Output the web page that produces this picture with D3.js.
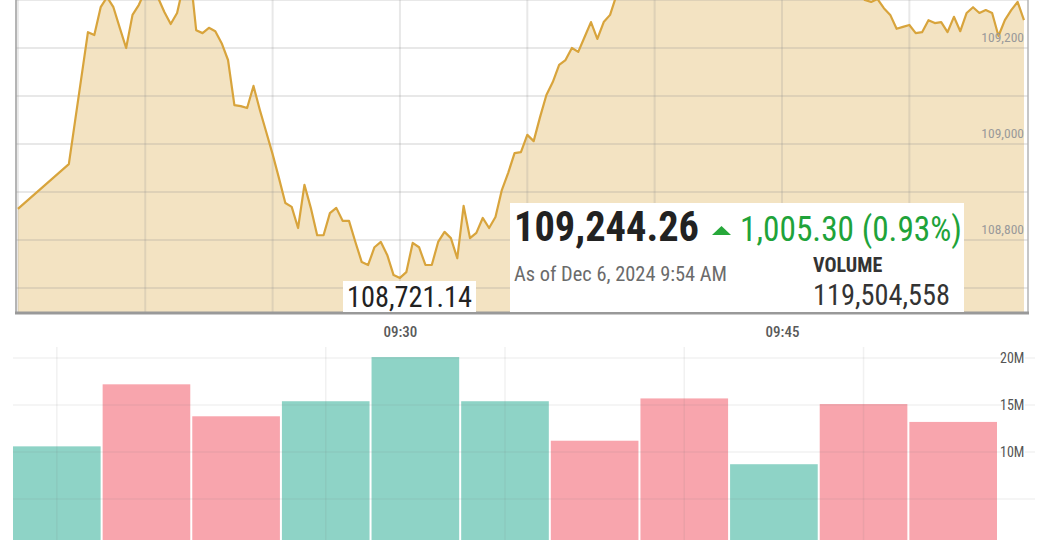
<!DOCTYPE html>
<html><head><meta charset="utf-8">
<script src="https://cdn.jsdelivr.net/npm/d3@7"></script>
<style>
body{margin:0;background:#fff;}
svg{display:block;}
text{font-family:"Roboto Condensed","Liberation Sans Narrow","DejaVu Sans Condensed","Arial Narrow",sans-serif;}
</style>
</head><body>
<svg id="c" width="1042" height="540"></svg>
<script>
// ---------- data ----------
const priceTimes = [
"09:15:00","09:17:00","09:17:45","09:18:00","09:18:15","09:18:30","09:18:45","09:19:00","09:19:15","09:19:30",
"09:19:45","09:20:00","09:20:15","09:20:30","09:20:45","09:21:00","09:21:15","09:21:30","09:21:45","09:22:00",
"09:22:15","09:22:30","09:22:45","09:23:00","09:23:15","09:23:30","09:23:45","09:24:00","09:24:15","09:24:30",
"09:24:45","09:25:00","09:25:15","09:25:30","09:25:45","09:26:00","09:26:15","09:26:30","09:26:45","09:27:00",
"09:27:15","09:27:30","09:27:45","09:28:00","09:28:15","09:28:30","09:28:45","09:29:00","09:29:15","09:29:30",
"09:29:45","09:30:00","09:30:15","09:30:30","09:30:45","09:31:00","09:31:15","09:31:30","09:31:45","09:32:00",
"09:32:15","09:32:30","09:32:45","09:33:00","09:33:15","09:33:30","09:33:45","09:34:00","09:34:15","09:34:30",
"09:34:45","09:35:00","09:35:15","09:35:30","09:35:45","09:36:00","09:36:15","09:36:30","09:36:45","09:37:00",
"09:37:15","09:37:30","09:37:45","09:38:00","09:38:15","09:38:30","09:39:00","09:40:00","09:41:00","09:42:00",
"09:43:00","09:44:00","09:45:00","09:46:00","09:47:00","09:48:00","09:48:15","09:48:30","09:48:45","09:49:00",
"09:49:15","09:49:30","09:49:45","09:50:00","09:50:15","09:50:30","09:50:45","09:51:00","09:51:15","09:51:30",
"09:51:45","09:52:00","09:52:15","09:52:30","09:52:45","09:53:00","09:53:15","09:53:30","09:53:45","09:54:00",
"09:54:15","09:54:30"];
const priceValues = [
108865,108958,109233,109227,109285,109306,109285,109242,109200,109269,
109290,109320,109330,109305,109275,109250,109273,109331,109362,109237,
109231,109242,109235,109210,109175,109081,109079,109075,109121,109071,
109025,108979,108929,108877,108869,108825,108915,108867,108810,108810,
108856,108867,108840,108840,108796,108754,108748,108785,108796,108769,
108727,108721.14,108733,108794,108785,108748,108748,108796,108817,108804,
108762,108871,108804,108815,108846,108825,108848,108904,108940,108981,
108983,109019,109006,109056,109102,109129,109165,109175,109200,109192,
109223,109254,109219,109254,109269,109310,109335,109370,109390,109400,
109385,109410,109420,109395,109380,109330,109300,109296,109302,109283,
109269,109240,109244,109248,109231,109233,109258,109252,109254,109233,
109265,109235,109273,109285,109273,109279,109273,109225,109258,109279,
109296,109258];
const priceGridTicks = [108700,108800,108900,109000,109100,109200,109300];
const priceLabelTicks = [108800,109000,109200];
const timeGridTicks = ["09:15:00","09:20:00","09:25:00","09:30:00","09:35:00","09:40:00","09:45:00","09:50:00","09:55:00"];
const timeLabelTicks = ["09:30:00","09:45:00"];

const volCategories = ["1","2","3","4","5","6","7","8","9","10","11"];
const volValues = [10.6e6,17.2e6,13.8e6,15.4e6,20.1e6,15.4e6,11.2e6,15.7e6,8.7e6,15.1e6,13.2e6];
const volDirections = ["up","down","down","up","up","up","down","down","up","down","down"];
const volGridCategories = ["1","4","6","8","10"];
const volGridTicks = [5e6,10e6,15e6,20e6];
const volLabelTicks = [10e6,15e6,20e6];

const lastPriceText = "109,244.26";
const changeText = "1,005.30 (0.93%)";
const asOfText = "As of Dec 6, 2024 9:54 AM";
const volumeLabelText = "VOLUME";
const volumeTotalText = "119,504,558";
const lowText = "108,721.14";

// ---------- setup ----------
const svg = d3.select("#c");
const parse = d3.timeParse("%H:%M:%S");
const data = priceTimes.map((t,i)=>({t:parse(t), v:priceValues[i]}));

const P = {left:16, right:1028, top:0, bottom:313};
const x = d3.scaleTime().domain([parse("09:15:00"), parse("09:55:00")]).range([17.9, 1036.7]);
const y = d3.scaleLinear().domain([108648, 109300]).range([313, 0]);

svg.append("defs").append("clipPath").attr("id","pc")
  .append("rect").attr("x",P.left).attr("y",-50).attr("width",P.right-P.left).attr("height",P.bottom+50);

const g = svg.append("g").attr("clip-path","url(#pc)");

// area
g.append("path").datum(data)
  .attr("fill","#f3e3c2")
  .attr("d", d3.area().x(d=>x(d.t)).y0(P.bottom).y1(d=>y(d.v)));

// grid
g.selectAll("line.hg").data(priceGridTicks).join("line")
  .attr("x1",P.left).attr("x2",P.right).attr("y1",d=>y(d)).attr("y2",d=>y(d))
  .attr("stroke","rgba(140,140,140,0.2)").attr("stroke-width",2);
g.selectAll("line.vg").data(timeGridTicks.map(parse)).join("line")
  .attr("x1",d=>x(d)).attr("x2",d=>x(d)).attr("y1",-10).attr("y2",P.bottom)
  .attr("stroke","rgba(140,140,140,0.2)").attr("stroke-width",2);

// line
g.append("path").datum(data)
  .attr("fill","none").attr("stroke","#d8a43c").attr("stroke-width",2.2).attr("stroke-linejoin","round")
  .attr("d", d3.line().x(d=>x(d.t)).y(d=>y(d.v)));

// price labels
svg.selectAll("text.pl").data(priceLabelTicks).join("text")
  .attr("x",1024).attr("y",d=>y(d)-6).attr("text-anchor","end")
  .attr("font-size",13.5).attr("fill","#9a9a9a").text(d=>d3.format(",")(d));

// frame
svg.append("line").attr("x1",P.left).attr("x2",P.left).attr("y1",0).attr("y2",P.bottom).attr("stroke","#9c9c9c").attr("stroke-width",1.5);
svg.append("line").attr("x1",P.right).attr("x2",P.right).attr("y1",0).attr("y2",P.bottom).attr("stroke","#b5b5b5").attr("stroke-width",1.5);
svg.append("line").attr("x1",P.left-1).attr("x2",P.right+1).attr("y1",P.bottom).attr("y2",P.bottom).attr("stroke","#999").attr("stroke-width",3);

// x axis labels
const xAxis = d3.axisBottom(x).tickValues(timeLabelTicks.map(parse)).tickFormat(d3.timeFormat("%H:%M")).tickSize(0).tickPadding(13);
const xa = svg.append("g").attr("transform",`translate(0,${P.bottom})`).call(xAxis);
xa.select(".domain").remove();
xa.selectAll("text").attr("font-size",15).attr("font-weight",500).attr("fill","#5a5a5a")
  .attr("font-family",'"Roboto Condensed","Liberation Sans Narrow","DejaVu Sans Condensed",sans-serif');

// low label
svg.append("rect").attr("x",343).attr("y",281).attr("width",133).attr("height",P.bottom-282).attr("fill","#fff");
svg.append("text").attr("x",347).attr("y",307).attr("font-size",29).attr("fill","#222")
  .attr("textLength",125).attr("lengthAdjust","spacingAndGlyphs").text(lowText);

// info box
svg.append("rect").attr("x",510).attr("y",203).attr("width",454).attr("height",P.bottom-204).attr("fill","#fff");
svg.append("text").attr("x",514).attr("y",241).attr("font-size",42).attr("font-weight",700).attr("fill","#222")
  .attr("textLength",185).attr("lengthAdjust","spacingAndGlyphs").text(lastPriceText);
svg.append("path").attr("d","M712,235 L731,235 L721.5,226 Z").attr("fill","#27a83a");
svg.append("text").attr("x",740).attr("y",241).attr("font-size",35).attr("fill","#1fa33a")
  .attr("textLength",222).attr("lengthAdjust","spacingAndGlyphs").text(changeText);
svg.append("text").attr("x",514).attr("y",281).attr("font-size",20.5).attr("fill","#6b6b6b")
  .attr("textLength",213).attr("lengthAdjust","spacingAndGlyphs").text(asOfText);
svg.append("text").attr("x",813).attr("y",272).attr("font-size",20).attr("font-weight",700).attr("fill","#333").text(volumeLabelText);
svg.append("text").attr("x",813).attr("y",305).attr("font-size",29).attr("fill","#333")
  .attr("textLength",137).attr("lengthAdjust","spacingAndGlyphs").text(volumeTotalText);

// ---------- volume chart ----------
const xb = d3.scaleBand().domain(volCategories).range([13, 997]).paddingInner(0.0223);
const yv = d3.scaleLinear().domain([0, 20e6]).range([546, 358]);

svg.selectAll("rect.bar").data(volValues).join("rect")
  .attr("x",(d,i)=>xb(volCategories[i])).attr("width",xb.bandwidth())
  .attr("y",d=>yv(d)).attr("height",d=>yv(0)-yv(d))
  .attr("fill",(d,i)=>volDirections[i]==="up" ? "#8ed3c6" : "#f8a5ad");

svg.selectAll("line.vh").data(volGridTicks).join("line")
  .attr("x1",13).attr("x2",1035).attr("y1",d=>yv(d)).attr("y2",d=>yv(d))
  .attr("stroke","rgba(120,120,120,0.1)").attr("stroke-width",1.5);
svg.selectAll("line.vv").data(volGridCategories).join("line")
  .attr("x1",d=>xb(d)+xb.bandwidth()/2).attr("x2",d=>xb(d)+xb.bandwidth()/2)
  .attr("y1",347).attr("y2",540)
  .attr("stroke","rgba(120,120,120,0.1)").attr("stroke-width",1.5);

const yAxis = d3.axisRight(yv).tickValues(volLabelTicks).tickFormat(d=>d/1e6+"M").tickSize(0).tickPadding(0);
const ya = svg.append("g").attr("transform","translate(1000,0)").call(yAxis);
ya.select(".domain").remove();
ya.selectAll("text").attr("font-family","'DejaVu Sans',sans-serif").attr("font-size",14).attr("fill","#555")
  .attr("stroke","#fff").attr("stroke-width",3).attr("paint-order","stroke");
</script>
</body></html>
